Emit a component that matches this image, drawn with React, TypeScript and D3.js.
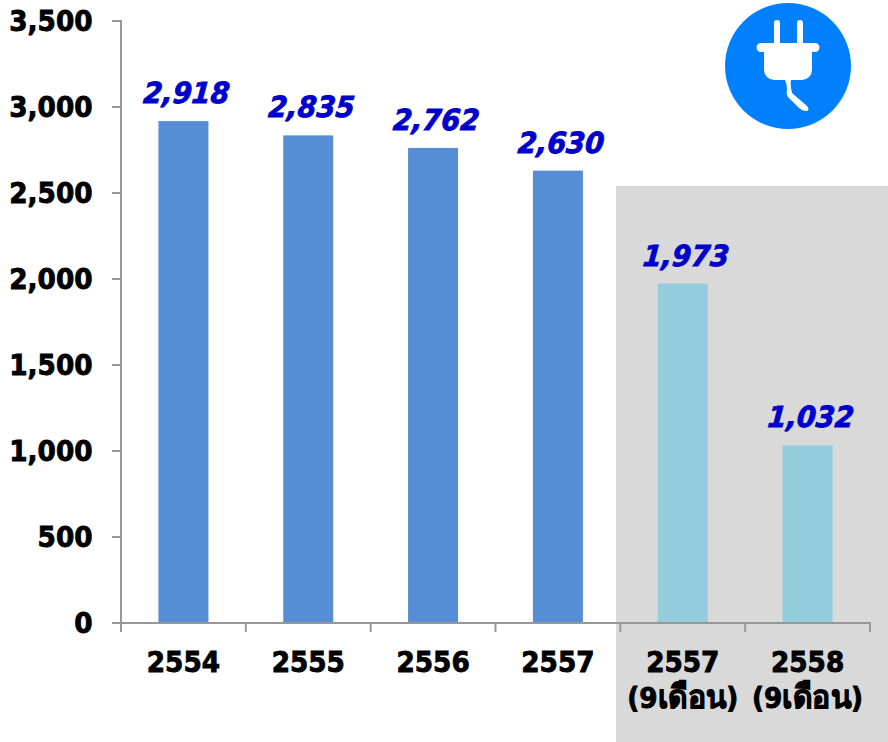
import React from "react";
import * as d3 from "d3";

const categories = ["2554", "2555", "2556", "2557", "2557", "2558"];
const subPrefix = ["", "", "", "", "(9", "(9"];
const subThai = ["", "", "", "", "เดือน", "เดือน"];
const subSuffix = ["", "", "", "", ")", ")"];
const values = [2918, 2835, 2762, 2630, 1973, 1032];
const barColors = ["#558ED5", "#558ED5", "#558ED5", "#558ED5", "#93CDDD", "#93CDDD"];
const yTicks = [0, 500, 1000, 1500, 2000, 2500, 3000, 3500];

const FONT = "'DejaVu Sans', sans-serif";
const SX = 0.94;

export default function App() {
  const x = d3.scaleBand<number>().domain(d3.range(categories.length)).range([121, 870]);
  const y = d3.scaleLinear().domain([0, 3500]).range([623, 21]);
  const fmt = d3.format(",");
  const barW = 50;
  const axis = "#979797";
  const heavy = { stroke: "currentColor", strokeWidth: 0.9, paintOrder: "stroke" } as const;
  return (
    <svg width={888} height={742} style={{ position: "absolute", left: 0, top: 0, display: "block" }} fontFamily={FONT}>
      <rect x={616} y={186} width={272} height={556} fill="#D9D9D9" />
      {values.map((v, i) => (
        <rect key={i} x={x(i)! + x.bandwidth() / 2 - barW / 2} y={y(v)} width={barW} height={y(0) - y(v)} fill={barColors[i]} />
      ))}
      <path d={`M112,${y(3500)}H121V${y(0)}`} fill="none" stroke={axis} strokeWidth={2} />
      {yTicks.map((t) => (
        <g key={t}>
          <line x1={112} x2={121} y1={y(t)} y2={y(t)} stroke={axis} strokeWidth={2} />
          <text transform={`translate(92.500,${y(t) + 10}) scale(${SX},1)`} textAnchor="end" fontSize={28} fontWeight={700} fill="#000" color="#000" {...heavy}>{fmt(t)}</text>
        </g>
      ))}
      <line x1={121} x2={871} y1={y(0)} y2={y(0)} stroke={axis} strokeWidth={2} />
      {d3.range(categories.length + 1).map((i) => {
        const px = 121 + i * x.step();
        return <line key={i} x1={px} x2={px} y1={y(0)} y2={y(0) + 9} stroke={axis} strokeWidth={2} />;
      })}
      {categories.map((c, i) => {
        const cx = x(i)! + x.bandwidth() / 2;
        return (
          <g key={i} textAnchor="middle" fontWeight={700} fill="#000" color="#000" {...heavy}>
            <text transform={`translate(${cx},672) scale(${SX},1)`} fontSize={28}>{c}</text>
            {subThai[i] && (
              <text transform={`translate(${cx},708) scale(${SX},1)`} fontSize={28}>
                {subPrefix[i]}
                <tspan fontSize={32}>{subThai[i]}</tspan>
                {subSuffix[i]}
              </text>
            )}
          </g>
        );
      })}
      {values.map((v, i) => (
        <text key={i} transform={`translate(${x(i)! + x.bandwidth() / 2 + 2.5},${y(v) - 18}) scale(${SX},1) skewX(-5)`} textAnchor="middle" fontSize={29} fontWeight={700} fontStyle="italic" fill="#0000CC" color="#0000CC" {...heavy}>{fmt(v)}</text>
      ))}
      <g>
        <circle cx={788} cy={66} r={63} fill="#0080FF" />
        <path fill="#fff" d="M774,23 a3,3 0 0 1 6,0 V43 H797 V23 a3,3 0 0 1 6,0 V43 H815 a4.500,4.500 0 0 1 0,9 H812 V70 a10,10 0 0 1 -10,10 H791 Q790,84 792,93 L807,106 Q810,110 807,111 Q801,111 797,106 L788,97 Q786,95 787,90 Q787,84 785,80 H774 a10,10 0 0 1 -10,-10 V52 H761 a4.500,4.500 0 0 1 0,-9 H774 Z" />
      </g>
    </svg>
  );
}
